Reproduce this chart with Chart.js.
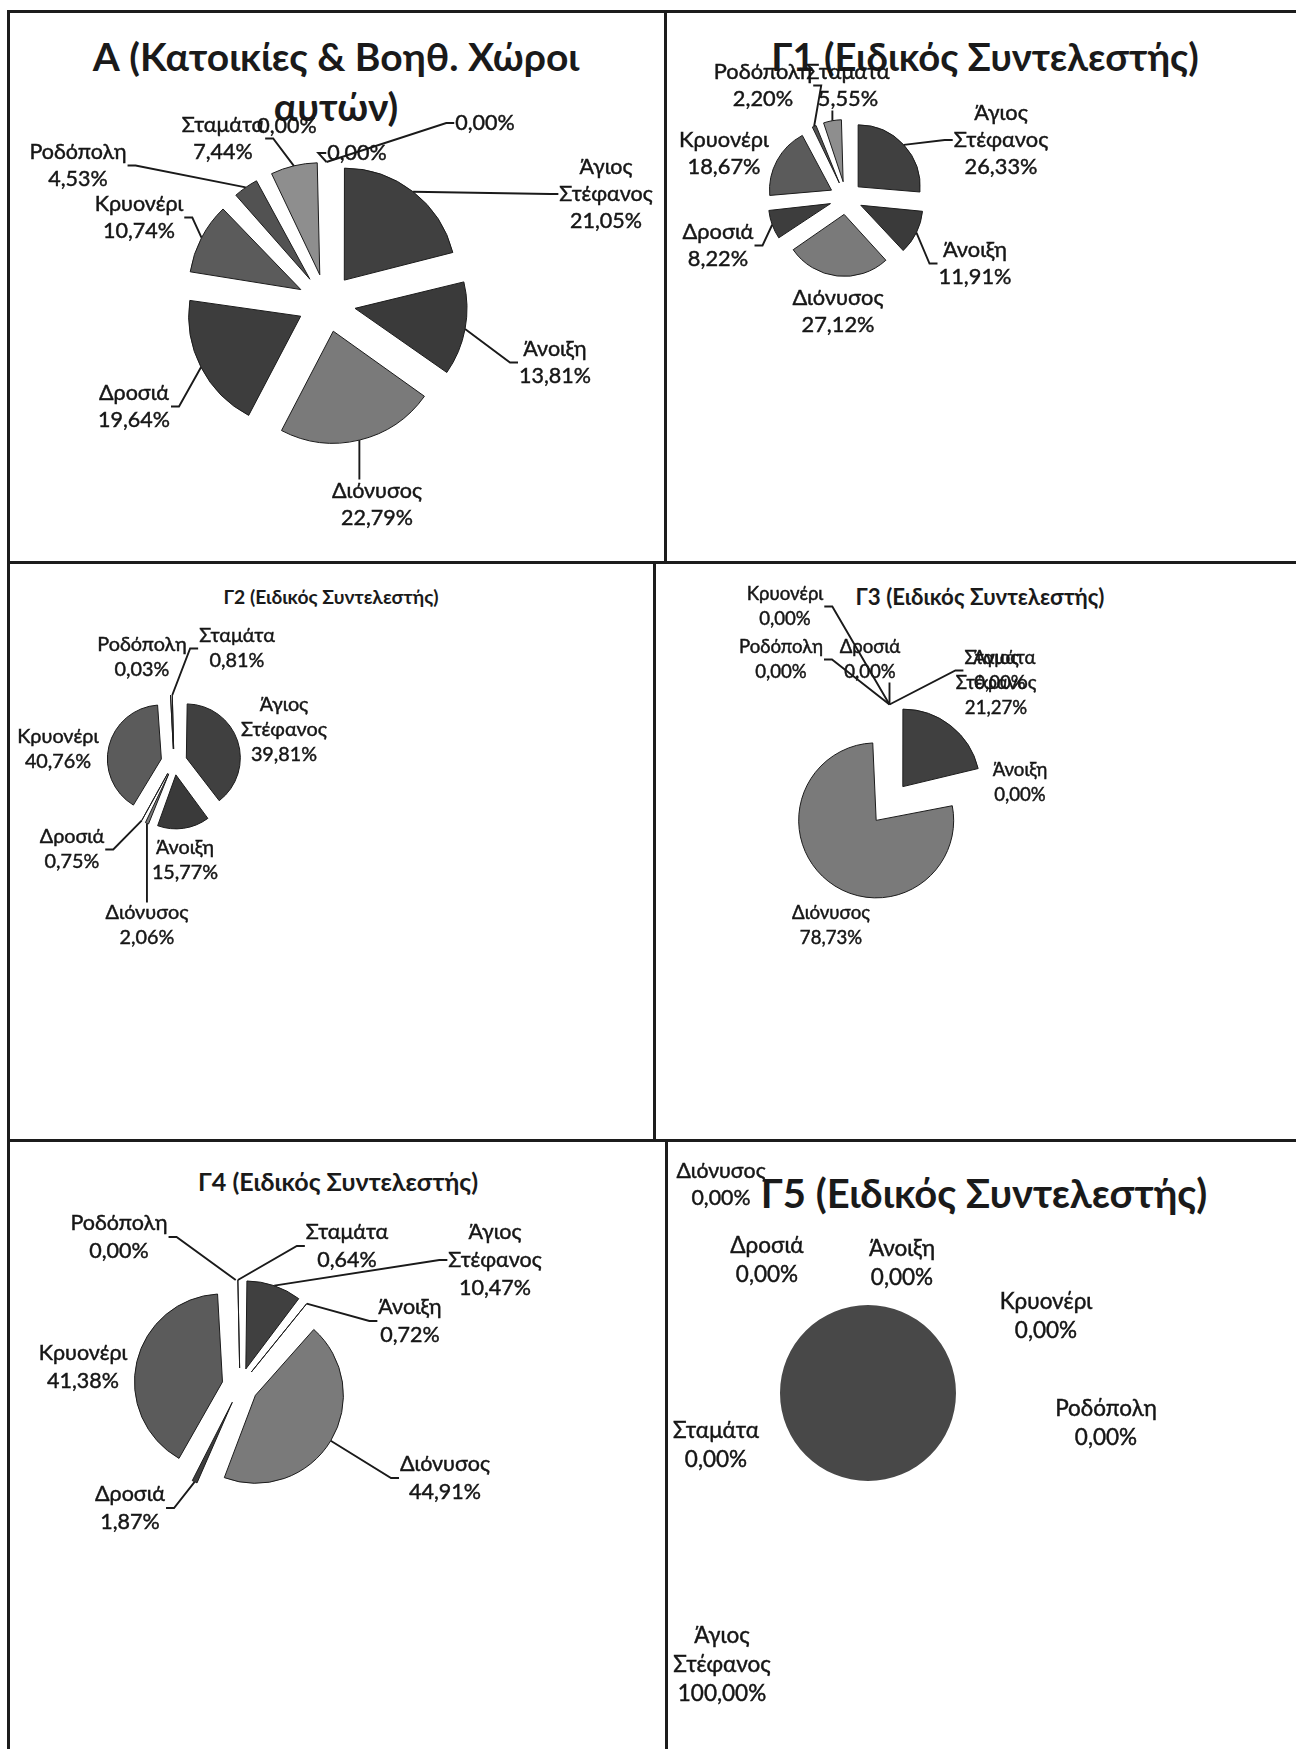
<!DOCTYPE html>
<html lang="el">
<head>
<meta charset="utf-8">
<title>Κατανομή ανά κοινότητα</title>
<script src="https://cdn.jsdelivr.net/npm/chart.js@4.4.1/dist/chart.umd.min.js"></script>
<style>
  html, body { margin: 0; padding: 0; background: #fff; }
  #page { position: relative; width: 1296px; height: 1749px; overflow: hidden; background: #fff; }
  .rule { position: absolute; background: #1c1c1c; }
  .title { position: absolute; font-family: Lato, 'Open Sans', 'DejaVu Sans', sans-serif; font-weight: 700;
           color: #1a1a1a; white-space: nowrap; transform: translate(-50%, -50%); line-height: 1; text-align: center; }
  canvas { position: absolute; left: 0; top: 0; pointer-events: none; }
</style>
</head>
<body>
<div id="page"></div>
<script>
// categories (slice order, clockwise from 12 o'clock)
const villages = ['Άγιος Στέφανος', 'Άνοιξη', 'Διόνυσος', 'Δροσιά', 'Κρυονέρι', 'Ροδόπολη', 'Σταμάτα'];
const villagesA = villages.concat(['', '', '']);   // chart A has three empty categories

// series values (%)
const valuesA  = [21.05, 13.81, 22.79, 19.64, 10.74, 4.53, 7.44, 0.00, 0.00, 0.00];
const valuesG1 = [26.33, 11.91, 27.12, 8.22, 18.67, 2.20, 5.55];
const valuesG2 = [39.81, 15.77, 2.06, 0.75, 40.76, 0.03, 0.81];
const valuesG3 = [21.27, 0.00, 78.73, 0.00, 0.00, 0.00, 0.00];
const valuesG4 = [10.47, 0.72, 44.91, 1.87, 41.38, 0.00, 0.64];
const valuesG5 = [100.00, 0.00, 0.00, 0.00, 0.00, 0.00, 0.00];

// label placement (block centre x, first line y) and leader side
const posA  = [[606,167],[555,349],[377,491],[134,393],[139,204],[78,152],[223,125],[287,126],[485,123],[357,153]];
const leadA = ['L','L','T','R','R','R','R','','L','L'];
const posG1  = [[1001,113],[975,250],[838,298],[718,232],[724,140],[763,72],[848,72]];
const leadG1 = ['L','L','','R','','R','B'];
const posG2  = [[284,705],[185,848],[147,913],[72,837],[58,737],[142,645],[237,636]];
const leadG2 = ['','','T','R','','','L'];
const posG3  = [[996,658],[1020,770],[831,913],[870,647],[785,594],[781,647],[1000,658]];
const leadG3 = ['','','','B','R','R','L'];
const posG4  = [[495,1232],[410,1307],[445,1464],[130,1494],[83,1353],[119,1223],[347,1232]];
const leadG4 = ['L','L','L','R','','R','L'];
const posG5  = [[722,1636],[902,1249],[721,1171],[767,1246],[1046,1302],[1106,1409],[716,1431]];
const sizeG5 = [1,1,0.95,1,1,1,1];

const shade = {
  'Άγιος Στέφανος': '#404040', 'Άνοιξη': '#3a3a3a', 'Διόνυσος': '#7a7a7a', 'Δροσιά': '#3d3d3d',
  'Κρυονέρι': '#5b5b5b', 'Ροδόπολη': '#525252', 'Σταμάτα': '#8e8e8e', '': '#999999'
};

const FONT = "Lato, 'Open Sans', 'DejaVu Sans', sans-serif";
const W = 1296, H = 1749;
const page = document.getElementById('page');

const panels = [
  { labels: villagesA, values: valuesA,  center: [326.5, 303], radius: 112, explode: 29, ref: 90, lineH: 27, pos: posA,  lead: leadA },
  { labels: villages,  values: valuesG1, center: [846, 198],   radius: 62,  explode: 16.5, ref: 91, lineH: 27, pos: posG1, lead: leadG1 },
  { labels: villages,  values: valuesG2, center: [174, 762],   radius: 54,  explode: 13, ref: 83, lineH: 25, pos: posG2, lead: leadG2 },
  { labels: villages,  values: valuesG3, center: [889.5, 803.5], radius: 77.5, explode: 21.5, ref: 78, lineH: 25, pos: posG3, lead: leadG3 },
  { labels: villages,  values: valuesG4, center: [240, 1386],  radius: 88,  explode: 18, ref: 90, lineH: 28, pos: posG4, lead: leadG4 },
  { labels: villages,  values: valuesG5, center: [868, 1393],  radius: 88,  explode: 0,  ref: 94, lineH: 29, pos: posG5, lead: [], size: sizeG5, fill: '#484848', border: 0 }
];

const titles = [
  { text: ['Α (Κατοικίες & Βοηθ. Χώροι', 'αυτών)'], x: 336, y: 56, w: 486, lh: 50 },
  { text: ['Γ1 (Ειδικός Συντελεστής)'], x: 985, y: 56, w: 427 },
  { text: ['Γ2 (Ειδικός Συντελεστής)'], x: 331, y: 597, w: 215 },
  { text: ['Γ3 (Ειδικός Συντελεστής)'], x: 980, y: 597, w: 249 },
  { text: ['Γ4 (Ειδικός Συντελεστής)'], x: 338, y: 1182, w: 280 },
  { text: ['Γ5 (Ειδικός Συντελεστής)'], x: 984, y: 1193, w: 446 }
];

// table frame
const rules = [
  [8, 10, 1288, 2.5], [7, 10, 2.5, 1739], [664, 10, 2.5, 553],
  [8, 561, 1288, 2.5], [653, 562, 2.5, 578],
  [8, 1139, 1288, 2.5], [665, 1140, 2.5, 609]
];
rules.forEach(r => {
  const d = document.createElement('div');
  d.className = 'rule';
  d.style.left = r[0] + 'px'; d.style.top = r[1] + 'px';
  d.style.width = r[2] + 'px'; d.style.height = r[3] + 'px';
  page.appendChild(d);
});

const measure = document.createElement('canvas').getContext('2d');
function fitSize(text, weight, target) {
  measure.font = weight + ' 100px ' + FONT;
  return 100 * target / measure.measureText(text).width;
}

titles.forEach(t => {
  const fs = fitSize(t.text[0], 'bold', t.w);
  t.text.forEach((line, i) => {
    const d = document.createElement('div');
    d.className = 'title';
    d.textContent = line;
    d.style.fontSize = fs.toFixed(1) + 'px';
    d.style.left = t.x + 'px';
    d.style.top = (t.y + i * (t.lh || 0)) + 'px';
    page.appendChild(d);
  });
});

function pct(v) { return v.toFixed(2).replace('.', ',') + '%'; }

// Chart.js enlarges small exploded slices; keep every slice on the same radius
const evenRadius = {
  id: 'evenRadius',
  beforeDatasetDraw(chart, args) {
    const meta = args.meta, R = meta.controller.outerRadius;
    meta.data.forEach(arc => {
      const off = (arc.options.offset || 0) / 4;
      const fix = 1 - Math.sin(Math.min(Math.PI, arc.circumference || 0));
      arc.outerRadius = R - off * fix;
    });
  }
};

function labelPlugin(p) {
  return {
    id: 'pieLabels',
    afterDatasetsDraw(chart) {
      const ctx = chart.ctx;
      const meta = chart.getDatasetMeta(0);
      const R = meta.controller.outerRadius;
      const base = fitSize('Διόνυσος', 'normal', p.ref);
      ctx.save();
      ctx.textAlign = 'center';
      ctx.textBaseline = 'middle';
      p.labels.forEach((name, i) => {
        const at = p.pos[i];
        if (!at) return;
        const k = p.size ? p.size[i] : 1;
        const fs = base * k, lh = p.lineH * k;
        const lines = (name ? name.split(' ') : []).concat([pct(p.values[i])]);
        ctx.font = fs.toFixed(1) + 'px ' + FONT;
        const w = Math.max(...lines.map(s => ctx.measureText(s).width));
        const left = at[0] - w / 2, right = at[0] + w / 2;
        const top = at[1] - lh / 2, bottom = at[1] + (lines.length - 0.5) * lh;
        const midY = (top + bottom) / 2;

        const side = p.lead[i];
        if (side) {
          const arc = meta.data[i];
          const mid = (arc.startAngle + arc.endAngle) / 2;
          const r = R + (arc.options.offset || 0) / 4;
          const tx = arc.x + Math.cos(mid) * r, ty = arc.y + Math.sin(mid) * r;
          ctx.beginPath();
          if (side === 'L') {
            ctx.moveTo(left - 1, midY); ctx.lineTo(left - 9, midY);
          } else if (side === 'R') {
            ctx.moveTo(right + 1, midY); ctx.lineTo(right + 9, midY);
          } else {
            const sx = Math.min(Math.max(tx, left + 4), right - 4);
            ctx.moveTo(sx, side === 'T' ? top + 2 : bottom - 2);
          }
          ctx.lineTo(tx, ty);
          ctx.strokeStyle = '#1a1a1a';
          ctx.lineWidth = 1.9;
          ctx.stroke();
        }
        ctx.fillStyle = '#161616';
        ctx.strokeStyle = '#161616';
        ctx.lineWidth = 0.45;
        lines.forEach((s, j) => {
          ctx.fillText(s, at[0], at[1] + j * lh);
          ctx.strokeText(s, at[0], at[1] + j * lh);
        });
      });
      ctx.restore();
    }
  };
}

panels.forEach(p => {
  const cv = document.createElement('canvas');
  cv.width = W; cv.height = H;
  cv.style.width = W + 'px'; cv.style.height = H + 'px';
  page.appendChild(cv);
  const cx = p.center[0], cy = p.center[1];
  new Chart(cv, {
    type: 'pie',
    data: {
      labels: p.labels,
      datasets: [{
        data: p.values,
        backgroundColor: p.labels.map(l => p.fill || shade[l]),
        borderColor: '#1b1b1b',
        borderWidth: p.border === undefined ? 1 : p.border,
        offset: p.values.map(() => p.explode * 4)
      }]
    },
    options: {
      responsive: false,
      animation: false,
      events: [],
      radius: p.radius,
      layout: {
        padding: {
          left: Math.max(0, 2 * cx - W), right: Math.max(0, W - 2 * cx),
          top: Math.max(0, 2 * cy - H), bottom: Math.max(0, H - 2 * cy)
        }
      },
      plugins: { legend: { display: false }, tooltip: { enabled: false }, title: { display: false } }
    },
    plugins: [evenRadius, labelPlugin(p)]
  });
});
</script>
</body>
</html>
